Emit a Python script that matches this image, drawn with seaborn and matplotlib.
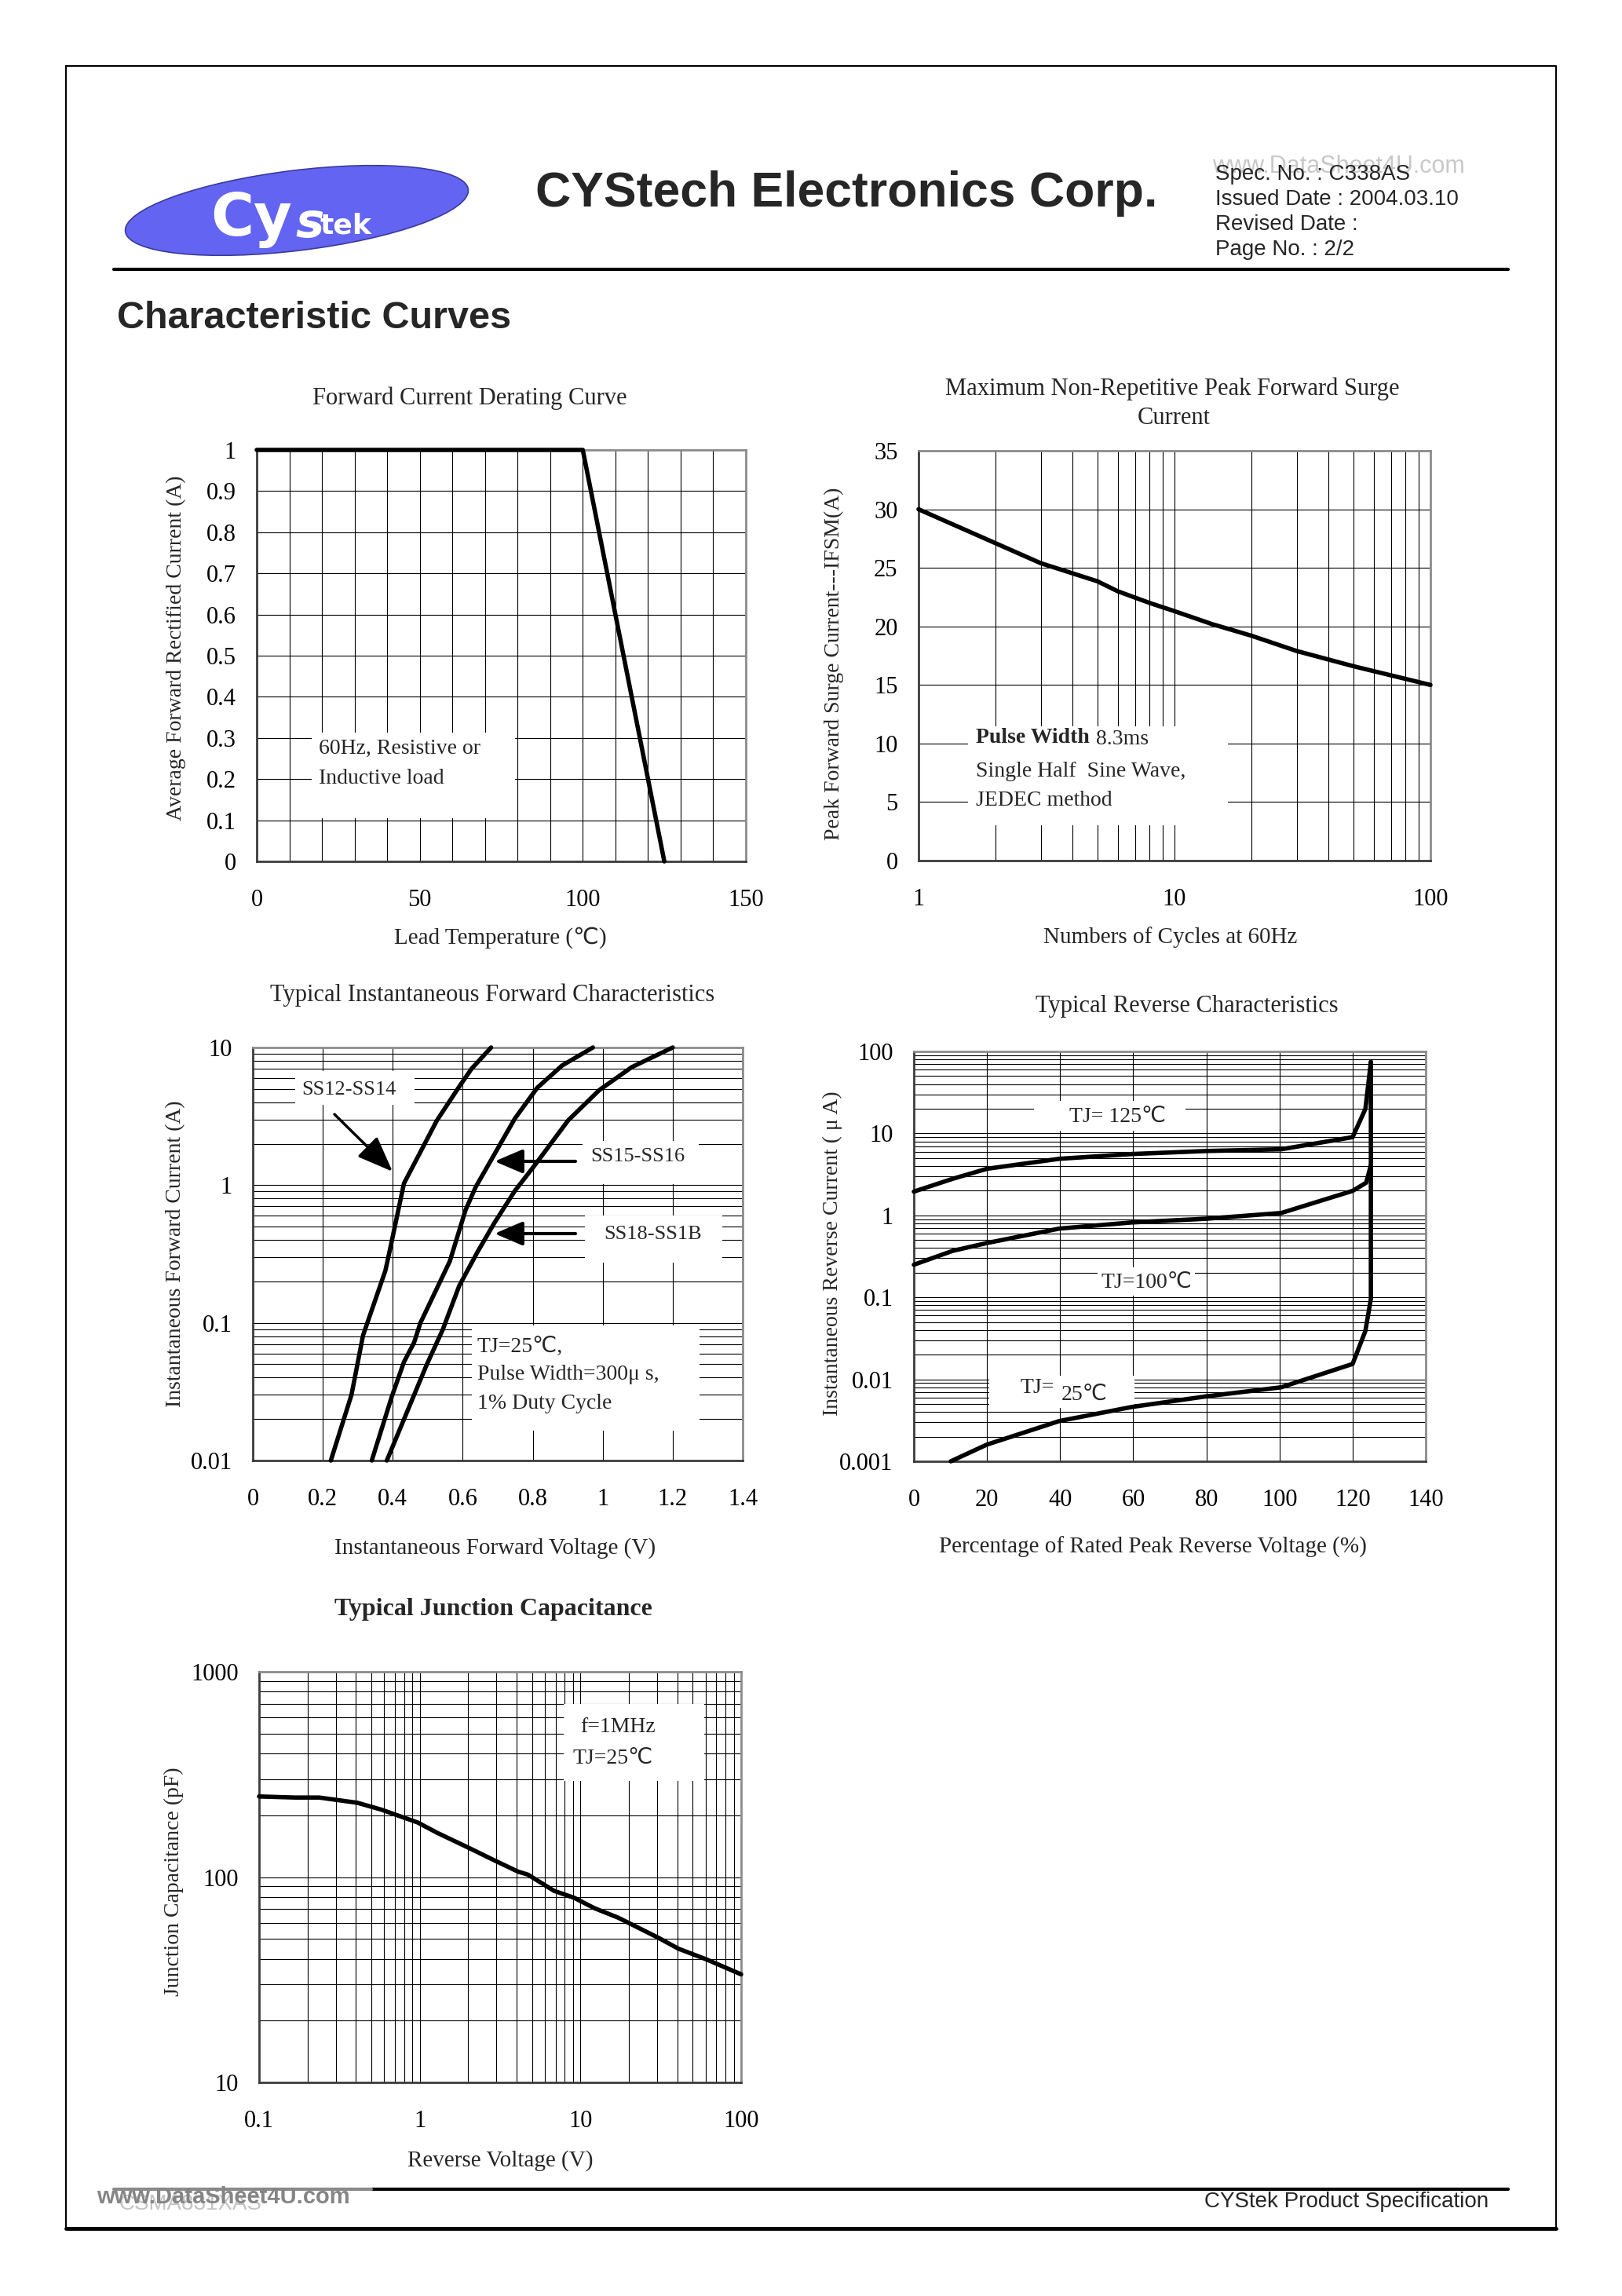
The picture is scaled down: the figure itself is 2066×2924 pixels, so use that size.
import numpy as np
import matplotlib
matplotlib.use("Agg")
import matplotlib.pyplot as plt
import matplotlib.ticker as mticker
from matplotlib.patches import Ellipse, Rectangle
import seaborn as sns

# ---- values ----
derate_temp = [0, 100, 125]
derate_amp = [1.0, 1.0, 0.0]

surge_cycles = [1, 2, 3, 5, 6, 8, 10, 14, 20, 30, 50, 100]
surge_amp = [30.0, 27.1, 25.4, 23.85, 23.0, 22.0, 21.3, 20.2, 19.2, 17.9, 16.6, 15.0]

vf_ss12 = [0.223, 0.282, 0.315, 0.379, 0.394, 0.432, 0.526, 0.590, 0.625, 0.681]
if_ss12 = [0.01, 0.030, 0.081, 0.24, 0.36, 1.03, 2.95, 5.2, 7.0, 10.0]
vf_ss15 = [0.340, 0.397, 0.432, 0.461, 0.479, 0.563, 0.608, 0.637, 0.749, 0.813, 0.884, 0.972]
if_ss15 = [0.01, 0.029, 0.052, 0.072, 0.10, 0.28, 0.66, 0.97, 3.05, 5.1, 7.4, 10.0]
vf_ss18 = [0.383, 0.496, 0.543, 0.590, 0.643, 0.690, 0.749, 0.808, 0.901, 0.990, 1.083, 1.200]
if_ss18 = [0.01, 0.049, 0.0895, 0.186, 0.33, 0.53, 0.91, 1.42, 2.95, 4.9, 7.2, 10.0]

rev_pct_125 = [0, 10.7, 20, 39.8, 59.6, 80, 100.5, 120, 123.5, 125]
rev_ua_125 = [1.95, 2.8, 3.7, 4.9, 5.6, 6.1, 6.4, 9.0, 19.9, 74.5]
rev_pct_100 = [0, 10.7, 20, 39.8, 59.6, 80, 100.5, 120, 123.7, 125]
rev_ua_100 = [0.25, 0.37, 0.46, 0.69, 0.82, 0.91, 1.07, 1.99, 2.5, 4.1]
rev_pct_25 = [10.1, 20, 39.8, 59.6, 80, 100.5, 120, 123.5, 125, 125]
rev_ua_25 = [0.001, 0.0016, 0.0031, 0.0046, 0.0062, 0.0080, 0.0154, 0.039, 0.096, 74.5]

cap_volt = [0.1, 0.168, 0.237, 0.41, 0.577, 0.97, 1.29, 2.05, 2.89, 4.08, 4.71,
            6.85, 9.13, 12.2, 17.2, 30.6, 40.7, 61, 100]
cap_pf = [247, 244, 244, 230, 213, 184.5, 164, 138, 121, 106.4, 102.8,
          85.7, 79.3, 70.6, 63.4, 50.6, 44.8, 39.7, 33.6]

# tick labels
derate_xticks = [0, 50, 100, 150]
derate_yticks = [0, 0.1, 0.2, 0.3, 0.4, 0.5, 0.6, 0.7, 0.8, 0.9, 1.0]
derate_ylabels = ["0", "0.1", "0.2", "0.3", "0.4", "0.5", "0.6", "0.7", "0.8", "0.9", "1"]
surge_xticks = [1, 10, 100]
surge_xlabels = ["1", "10", "100"]
surge_yticks = [0, 5, 10, 15, 20, 25, 30, 35]
fwd_xticks = [0, 0.2, 0.4, 0.6, 0.8, 1.0, 1.2, 1.4]
fwd_xlabels = ["0", "0.2", "0.4", "0.6", "0.8", "1", "1.2", "1.4"]
fwd_yticks = [0.01, 0.1, 1, 10]
fwd_ylabels = ["0.01", "0.1", "1", "10"]
rev_xticks = [0, 20, 40, 60, 80, 100, 120, 140]
rev_yticks = [0.001, 0.01, 0.1, 1, 10, 100]
rev_ylabels = ["0.001", "0.01", "0.1", "1", "10", "100"]
cap_xticks = [0.1, 1, 10, 100]
cap_xlabels = ["0.1", "1", "10", "100"]
cap_yticks = [10, 100, 1000]
cap_ylabels = ["10", "100", "1000"]

sns.set_theme(style="white")
plt.rcParams['font.family'] = ['Liberation Serif', 'DejaVu Sans', 'Noto Sans CJK SC']
SANS = ['Liberation Sans', 'DejaVu Sans']

W, H = 2066, 2924
fig = plt.figure(figsize=(W / 100, H / 100), dpi=100)
fig.patch.set_facecolor('white')


def fx(x):
    return x / W


def fy(y):
    return 1 - y / H


def make_axes(left, top, right, bottom):
    return fig.add_axes([fx(left), fy(bottom), (right - left) / W, (bottom - top) / H])


def style(ax):
    ax.set_facecolor('white')
    ax.set_axisbelow(True)
    ax.grid(True, which='both', color='black', linewidth=0.8)
    ax.tick_params(which='both', length=0, labelsize=22, colors='black')
    ax.tick_params(axis='x', pad=25)
    ax.tick_params(axis='y', pad=19)
    for s in ['top', 'right']:
        ax.spines[s].set_color('#8c8c8c')
        ax.spines[s].set_linewidth(2)
        ax.spines[s].set_visible(True)
    for s in ['left', 'bottom']:
        ax.spines[s].set_color('#3c3c3c')
        ax.spines[s].set_linewidth(2)
        ax.spines[s].set_visible(True)
    ax.set_xlabel('')
    ax.set_ylabel('')


def log_minor(axis):
    axis.set_minor_locator(mticker.LogLocator(base=10, subs=np.arange(2, 10), numticks=100))
    axis.set_minor_formatter(mticker.NullFormatter())


def white_box(ax, x0, y0, x1, y1):
    ax.add_patch(Rectangle((fx(x0), fy(y1)), (x1 - x0) / W, (y1 - y0) / H,
                           transform=fig.transFigure, facecolor='white',
                           edgecolor='none', zorder=1.5))


def label(x, y, s, size=20, **kw):
    kw.setdefault('ha', 'center')
    kw.setdefault('va', 'center')
    fig.text(fx(x), fy(y), s, fontsize=size, **kw)


def curve(ax, x, y):
    sns.lineplot(x=x, y=y, ax=ax, color='black', linewidth=4, sort=False,
                 estimator=None, clip_on=False, zorder=3)


# ---- page decorations ----
deco = fig.add_axes([0, 0, 1, 1], zorder=-1)
deco.set_xlim(0, W)
deco.set_ylim(H, 0)
deco.axis('off')
deco.add_patch(Ellipse((378, 268), 440, 102, angle=-7, facecolor='#6464f2',
                       edgecolor='#3a3a9c', linewidth=1.2))
deco.plot([84, 1982, 1982], [84, 84, 2838], color='black', lw=1.5)
deco.plot([84, 84], [84, 2838], color='black', lw=1.5)
deco.plot([84, 1982], [2838, 2838], color='black', lw=3.5)
deco.plot([145, 1921], [343, 343], color='black', lw=3)
deco.plot([473, 1921], [2788, 2788], color='black', lw=3)
deco.plot([145, 473], [2788, 2788], color='#8a8a8a', lw=3)

fig.text(fx(268), fy(300), "Cy", color='white', fontsize=54, fontweight='bold',
         family=['DejaVu Sans'], va='baseline')
fig.text(fx(376), fy(302), "s", color='white', fontsize=44, fontweight='bold',
         style='italic', family=['DejaVu Sans'], va='baseline')
fig.text(fx(407), fy(298), "tek", color='white', fontsize=26, fontweight='bold',
         family=['DejaVu Sans'], va='baseline')

label(682, 247, "CYStech Electronics Corp.", size=45, ha='left',
      fontweight='bold', family=SANS)
label(1544, 212, "www.DataSheet4U.com", size=22, ha='left', color='#c8c8c8', family=SANS)
for yy, s in zip([222, 254, 286, 318],
                 ["Spec. No. : C338AS", "Issued Date : 2004.03.10",
                  "Revised Date :", "Page No. : 2/2"]):
    label(1548, yy, s, size=20, ha='left', family=SANS)
label(149, 406, "Characteristic Curves", size=35, ha='left', fontweight='bold', family=SANS)

label(152, 2807, "CSMA831XAS", size=20, ha='left', color='#c4c4c4', family=SANS)
label(123, 2798, "www.DataSheet4U.com", size=21, ha='left', color='#858585',
      fontweight='bold', family=SANS)
label(1896, 2804, "CYStek Product Specification", size=20, ha='right', family=SANS)

# ---- 1: forward current derating ----
ax1 = make_axes(327, 573, 950, 1097)
curve(ax1, derate_temp, derate_amp)
ax1.set_xlim(0, 150)
ax1.set_ylim(0, 1)
ax1.set_xticks(derate_xticks)
ax1.xaxis.set_minor_locator(mticker.MultipleLocator(10))
ax1.set_yticks(derate_yticks, labels=derate_ylabels)
style(ax1)
white_box(ax1, 397, 933, 656, 1042)
label(598, 507, "Forward Current Derating Curve", size=22)
label(637, 1194, "Lead Temperature (℃)", size=21)
label(224, 825, "Average Forward Rectified Current (A)", size=20, rotation=90)
label(406, 953, "60Hz, Resistive or", ha='left')
label(406, 992, "Inductive load", ha='left')

# ---- 2: surge current ----
ax2 = make_axes(1170, 574, 1822, 1096)
ax2.set_xscale('log')
curve(ax2, surge_cycles, surge_amp)
ax2.set_xlim(1, 100)
ax2.set_ylim(0, 35)
ax2.set_xticks(surge_xticks, labels=surge_xlabels)
log_minor(ax2.xaxis)
ax2.set_yticks(surge_yticks)
style(ax2)
white_box(ax2, 1233, 925, 1564, 1051)
label(1493, 495, "Maximum Non-Repetitive Peak Forward Surge", size=22)
label(1495, 533, "Current", size=22)
label(1491, 1194, "Numbers of Cycles at 60Hz", size=21)
label(1062, 845, "Peak Forward Surge Current---IFSM(A)", size=20, rotation=90)
label(1243, 940, "Pulse Width", ha='left', fontweight='bold')
label(1396, 942, "8.3ms", ha='left')
label(1243, 983, "Single Half  Sine Wave,", ha='left')
label(1243, 1020, "JEDEC method", ha='left')

# ---- 3: forward characteristics ----
ax3 = make_axes(322, 1334, 946, 1860)
ax3.set_yscale('log')
curve(ax3, vf_ss12, if_ss12)
curve(ax3, vf_ss15, if_ss15)
curve(ax3, vf_ss18, if_ss18)
ax3.set_xlim(0, 1.4)
ax3.set_ylim(0.01, 10)
ax3.set_xticks(fwd_xticks, labels=fwd_xlabels)
ax3.set_yticks(fwd_yticks, labels=fwd_ylabels)
log_minor(ax3.yaxis)
style(ax3)
white_box(ax3, 376, 1364, 528, 1407)
white_box(ax3, 742, 1453, 890, 1508)
white_box(ax3, 745, 1548, 920, 1608)
white_box(ax3, 601, 1688, 891, 1822)
label(627, 1267, "Typical Instantaneous Forward Characteristics", size=22)
label(631, 1972, "Instantaneous Forward Voltage (V)", size=21)
label(224, 1597, "Instantaneous Forward Current (A)", size=20, rotation=90)
label(444, 1388, "SS12-SS14", size=19)
label(812, 1473, "SS15-SS16", size=19)
label(832, 1572, "SS18-SS1B", size=19)
label(608, 1715, "TJ=25℃,", ha='left')
label(608, 1751, "Pulse Width=300μ s,", ha='left')
label(608, 1788, "1% Duty Cycle", ha='left')
ax3.annotate('', xy=(fx(500), fy(1492)), xytext=(fx(426), fy(1419)),
             xycoords='figure fraction', textcoords='figure fraction',
             arrowprops=dict(arrowstyle='-|>,head_length=1.4,head_width=0.55',
                             mutation_scale=20, lw=2.5, color='black',
                             shrinkA=0, shrinkB=0))
for ay in [1479, 1571]:
    ax3.annotate('', xy=(fx(630), fy(ay)), xytext=(fx(733), fy(ay)),
                 xycoords='figure fraction', textcoords='figure fraction',
                 arrowprops=dict(arrowstyle='-|>,head_length=1.1,head_width=0.47',
                                 mutation_scale=20, lw=3, color='black',
                                 shrinkA=0, shrinkB=0))

# ---- 4: reverse characteristics ----
ax4 = make_axes(1164, 1339, 1816, 1861)
ax4.set_yscale('log')
curve(ax4, rev_pct_125, rev_ua_125)
curve(ax4, rev_pct_100, rev_ua_100)
curve(ax4, rev_pct_25, rev_ua_25)
ax4.set_xlim(0, 140)
ax4.set_ylim(0.001, 100)
ax4.set_xticks(rev_xticks)
ax4.set_yticks(rev_yticks, labels=rev_ylabels)
log_minor(ax4.yaxis)
style(ax4)
white_box(ax4, 1317, 1402, 1510, 1440)
white_box(ax4, 1398, 1614, 1522, 1650)
white_box(ax4, 1260, 1752, 1445, 1793)
label(1512, 1281, "Typical Reverse Characteristics", size=22)
label(1468, 1970, "Percentage of Rated Peak Reverse Voltage (%)", size=21)
label(1060, 1596, "Instantaneous Reverse Current ( μ A)", size=20, rotation=90)
label(1424, 1422, "TJ= 125℃")
label(1460, 1633, "TJ=100℃")
label(1299, 1767, "TJ=", ha='left')
label(1352, 1776, "25℃", ha='left')

# ---- 5: junction capacitance ----
ax5 = make_axes(330, 2129, 944, 2652)
ax5.set_xscale('log')
ax5.set_yscale('log')
curve(ax5, cap_volt, cap_pf)
ax5.set_xlim(0.1, 100)
ax5.set_ylim(10, 1000)
ax5.set_xticks(cap_xticks, labels=cap_xlabels)
ax5.set_yticks(cap_yticks, labels=cap_ylabels)
log_minor(ax5.xaxis)
log_minor(ax5.yaxis)
style(ax5)
white_box(ax5, 718, 2170, 897, 2268)
label(628, 2050, "Typical Junction Capacitance", size=23, fontweight='bold')
label(637, 2752, "Reverse Voltage (V)", size=21)
label(221, 2396, "Junction Capacitance (pF)", size=20, rotation=90)
label(787, 2199, "f=1MHz")
label(781, 2239, "TJ=25℃")

fig.savefig("out.png", dpi=100, facecolor='white')
